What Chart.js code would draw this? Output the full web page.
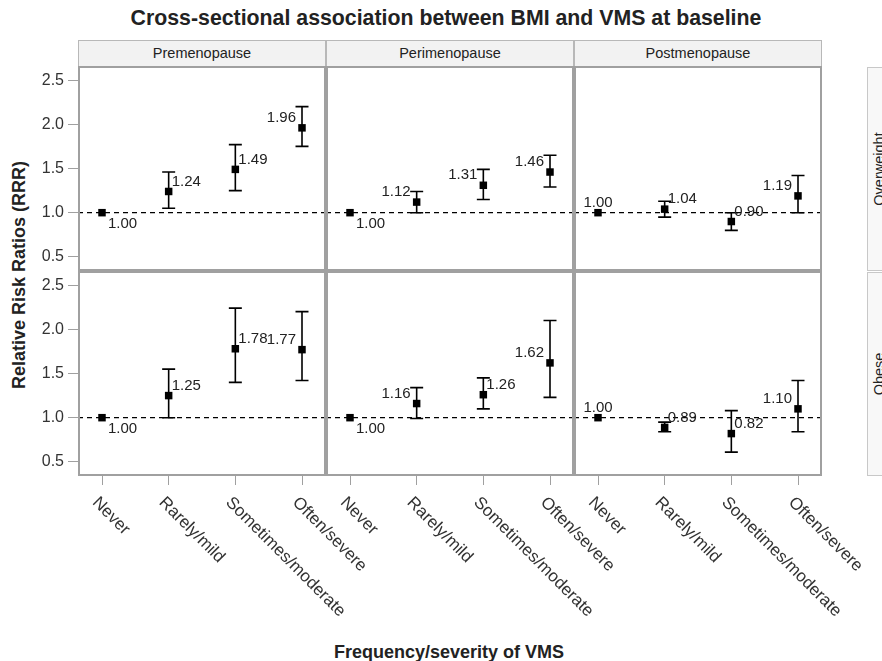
<!DOCTYPE html>
<html>
<head>
<meta charset="utf-8">
<script src="https://cdn.jsdelivr.net/npm/chart.js@4/dist/chart.umd.min.js"></script>
<style>
  body { margin: 0; width: 882px; height: 661px; overflow: hidden; position: relative; background: #fff;
         font-family: "Liberation Sans", Arial, sans-serif; color: #222; }
  canvas { position: absolute; }
  .txt { position: absolute; white-space: nowrap; text-align: center; }
  .strip { position: absolute; box-sizing: border-box; background: #f2f2f2; border: 1px solid #b8b8b8;
           font-size: 14.5px; text-align: center; line-height: 24px; color: #222; }
  .rstrip { position: absolute; box-sizing: border-box; background: #f8f8f8; border: 1px solid #c8c8c8; overflow: hidden; }
  .rstrip span { position: absolute; left: 50%; top: 50%; transform: translate(-50%, -50%) rotate(-90deg);
                 font-size: 14.5px; white-space: nowrap; color: #222; }
</style>
</head>
<body>
<div class="txt" id="title" style="left:74px;width:744px;top:6px;font-size:21.3px;font-weight:bold;line-height:24px;">Cross-sectional association between BMI and VMS at baseline</div>
<div class="txt" style="left:449px;top:652px;transform:translate(-50%,-50%);font-size:18px;font-weight:bold;">Frequency/severity of VMS</div>
<div class="txt" style="left:19px;top:275px;transform:translate(-50%,-50%) rotate(-90deg);font-size:18px;font-weight:bold;">Relative Risk Ratios (RRR)</div>

<script>
// categories and facets
const categories = ["Never", "Rarely/mild", "Sometimes/moderate", "Often/severe"];
const stages = ["Premenopause", "Perimenopause", "Postmenopause"];
const bmiGroups = ["Overweight", "Obese"];
const yTicks = [0.5, 1.0, 1.5, 2.0, 2.5];

// Overweight row: RRR, lower and upper CI
const owPreRRR  = [1.00, 1.24, 1.49, 1.96];
const owPreLow  = [1.00, 1.05, 1.25, 1.75];
const owPreHigh = [1.00, 1.46, 1.77, 2.20];
const owPeriRRR  = [1.00, 1.12, 1.31, 1.46];
const owPeriLow  = [1.00, 1.00, 1.15, 1.29];
const owPeriHigh = [1.00, 1.24, 1.49, 1.65];
const owPostRRR  = [1.00, 1.04, 0.90, 1.19];
const owPostLow  = [1.00, 0.95, 0.80, 1.00];
const owPostHigh = [1.00, 1.13, 1.00, 1.42];

// Obese row
const obPreRRR  = [1.00, 1.25, 1.78, 1.77];
const obPreLow  = [1.00, 1.00, 1.40, 1.42];
const obPreHigh = [1.00, 1.55, 2.24, 2.20];
const obPeriRRR  = [1.00, 1.16, 1.26, 1.62];
const obPeriLow  = [1.00, 0.99, 1.10, 1.23];
const obPeriHigh = [1.00, 1.34, 1.45, 2.10];
const obPostRRR  = [1.00, 0.89, 0.82, 1.10];
const obPostLow  = [1.00, 0.84, 0.61, 0.84];
const obPostHigh = [1.00, 0.95, 1.08, 1.42];

// where each point label sits: b = below right, r = right, l = left, t = above
const owLabelPos = [["b","r","r","l"], ["b","l","l","l"], ["t","r","r","l"]];
const obLabelPos = [["b","r","r","l"], ["b","l","r","l"], ["t","r","r","l"]];

// --- layout ---
const FONT = '"Liberation Sans", Arial, sans-serif';
const colX = [78, 326, 574];
const rowY = [66, 271];
const panelW = 248, panelH = 205;
const yAxisW = 78, xAxisH = 165, labelOverflow = 70;
const xMin = -0.36, xMax = 3.36;
const yMin = 0.34, yMax = 2.66;
const frameColor = "#a0a0a0";

const panels = [
  {row: 0, col: 0, rrr: owPreRRR,  lo: owPreLow,  hi: owPreHigh,  pos: owLabelPos[0]},
  {row: 0, col: 1, rrr: owPeriRRR, lo: owPeriLow, hi: owPeriHigh, pos: owLabelPos[1]},
  {row: 0, col: 2, rrr: owPostRRR, lo: owPostLow, hi: owPostHigh, pos: owLabelPos[2]},
  {row: 1, col: 0, rrr: obPreRRR,  lo: obPreLow,  hi: obPreHigh,  pos: obLabelPos[0]},
  {row: 1, col: 1, rrr: obPeriRRR, lo: obPeriLow, hi: obPeriHigh, pos: obLabelPos[1]},
  {row: 1, col: 2, rrr: obPostRRR, lo: obPostLow, hi: obPostHigh, pos: obLabelPos[2]}
];

// column strips on top
stages.forEach((s, i) => {
  const d = document.createElement("div");
  d.className = "strip";
  d.style.left = colX[i] + "px"; d.style.top = "40px";
  d.style.width = panelW + "px"; d.style.height = "27px";
  d.textContent = s;
  document.body.appendChild(d);
});
// row strips on the right (cut by the page edge)
bmiGroups.forEach((g, i) => {
  const d = document.createElement("div");
  d.className = "rstrip";
  d.style.left = "867px"; d.style.top = (rowY[i] + 1) + "px";
  d.style.width = "24px"; d.style.height = (panelH - 1) + "px";
  const sp = document.createElement("span");
  sp.textContent = g;
  d.appendChild(sp);
  document.body.appendChild(d);
});

// error bars, reference line, labels and frame
function panelPlugin(p) {
  return {
    id: "panelDeco",
    beforeDatasetsDraw(chart) {
      const {ctx, chartArea: a, scales: {x, y}} = chart;
      ctx.save();
      const y1 = y.getPixelForValue(1);
      ctx.strokeStyle = "#000";
      ctx.lineWidth = 1.3;
      ctx.setLineDash([5, 4]);
      ctx.beginPath(); ctx.moveTo(a.left, y1); ctx.lineTo(a.right, y1); ctx.stroke();
      ctx.setLineDash([]);
      ctx.lineWidth = 1.6;
      p.rrr.forEach((v, i) => {
        if (p.lo[i] === p.hi[i]) return;
        const px = x.getPixelForValue(i);
        const yl = y.getPixelForValue(p.lo[i]), yh = y.getPixelForValue(p.hi[i]);
        ctx.beginPath();
        ctx.moveTo(px, yl); ctx.lineTo(px, yh);
        ctx.moveTo(px - 6.5, yl); ctx.lineTo(px + 6.5, yl);
        ctx.moveTo(px - 6.5, yh); ctx.lineTo(px + 6.5, yh);
        ctx.stroke();
      });
      ctx.restore();
    },
    afterDatasetsDraw(chart) {
      const {ctx, scales: {x, y}} = chart;
      ctx.save();
      ctx.font = "15px " + FONT;
      ctx.fillStyle = "#222";
      ctx.textBaseline = "middle";
      p.rrr.forEach((v, i) => {
        const px = x.getPixelForValue(i), py = y.getPixelForValue(v);
        const t = v.toFixed(2);
        const k = p.pos[i];
        if (k === "r") { ctx.textAlign = "left"; ctx.fillText(t, px + 3, py - 10); }
        else if (k === "l") { ctx.textAlign = "right"; ctx.fillText(t, px - 6, py - 10); }
        else if (k === "b") { ctx.textAlign = "left"; ctx.fillText(t, px + 6, py + 11); }
        else { ctx.textAlign = "center"; ctx.fillText(t, px, py - 10); }
      });
      ctx.restore();
    },
    afterDraw(chart) {
      const {ctx, chartArea: a, scales: {x}} = chart;
      ctx.save();
      ctx.strokeStyle = frameColor;
      ctx.lineWidth = 2;
      ctx.strokeRect(a.left + 1, a.top + 1, a.right - a.left - 2, a.bottom - a.top - 2);
      if (p.row === 1) {
        ctx.font = "17px " + FONT;
        ctx.fillStyle = "#333";
        ctx.textAlign = "left";
        ctx.textBaseline = "middle";
        categories.forEach((c, i) => {
          const px = x.getPixelForValue(i);
          ctx.save();
          ctx.translate(px - 7, a.bottom + 24);
          ctx.rotate(Math.PI / 4);
          ctx.fillText(c, 0, 0);
          ctx.restore();
        });
      }
      ctx.restore();
    }
  };
}

function makeChart(p) {
  const isLeft = p.col === 0, isBottom = p.row === 1;
  const extra = isBottom ? labelOverflow : 0;
  const cv = document.createElement("canvas");
  cv.width = (isLeft ? yAxisW : 0) + panelW + extra;
  cv.height = panelH + (isBottom ? xAxisH : 0);
  cv.style.left = (isLeft ? 0 : colX[p.col]) + "px";
  cv.style.top = rowY[p.row] + "px";
  document.body.appendChild(cv);

  new Chart(cv, {
    type: "scatter",
    data: {
      datasets: [{
        data: p.rrr.map((v, i) => ({x: i, y: v})),
        pointStyle: "rect",
        pointRadius: 5.3,
        pointHoverRadius: 5.3,
        backgroundColor: "#000",
        borderColor: "#000",
        borderWidth: 0
      }]
    },
    options: {
      responsive: false,
      animation: false,
      devicePixelRatio: 1,
      events: [],
      layout: {padding: {left: 0, top: 0, bottom: 0, right: extra}, autoPadding: false},
      plugins: {legend: {display: false}, tooltip: {enabled: false}},
      scales: {
        x: {
          type: "linear", min: xMin, max: xMax, display: isBottom,
          afterBuildTicks: s => { s.ticks = categories.map((c, i) => ({value: i})); },
          afterFit: s => {
            s.height = isBottom ? xAxisH : 0;
            s.paddingLeft = 0; s.paddingRight = 0;
          },
          grid: {drawOnChartArea: false, tickLength: 9, color: frameColor, tickColor: frameColor},
          border: {display: false},
          ticks: {display: false}
        },
        y: {
          type: "linear", min: yMin, max: yMax, display: isLeft,
          afterBuildTicks: s => { s.ticks = yTicks.map(v => ({value: v})); },
          afterFit: s => {
            s.width = isLeft ? yAxisW : 0;
            s.paddingTop = 0; s.paddingBottom = 0;
          },
          grid: {drawOnChartArea: false, tickLength: 10, color: frameColor, tickColor: frameColor},
          border: {display: false},
          ticks: {font: {family: FONT, size: 16}, color: "#333", padding: 4, callback: v => v.toFixed(1)}
        }
      }
    },
    plugins: [panelPlugin(p)]
  });
}

panels.forEach(makeChart);
</script>
</body>
</html>
